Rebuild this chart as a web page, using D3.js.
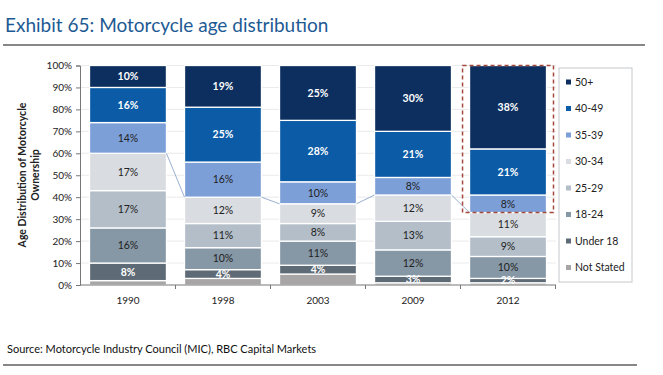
<!DOCTYPE html>
<html>
<head>
<meta charset="utf-8">
<script src="https://cdn.jsdelivr.net/npm/d3@7"></script>
<style>
  body { margin: 0; background: #fff; }
  svg { display: block; font-family: Lato, "Open Sans", sans-serif; }
</style>
</head>
<body>
<div id="chart"></div>
<script>
// Data (percent of ownership, bottom to top).
const years = ["1990", "1998", "2003", "2009", "2012"];
const groups = ["Not Stated", "Under 18", "18-24", "25-29", "30-34", "35-39", "40-49", "50+"];
const notStated = [2, 3, 5, 1, 1];
const under18   = [8, 4, 4, 3, 2];
const age18_24  = [16, 10, 11, 12, 10];
const age25_29  = [17, 11, 8, 13, 9];
const age30_34  = [17, 12, 9, 12, 11];
const age35_39  = [14, 16, 10, 8, 8];
const age40_49  = [16, 25, 28, 21, 21];
const age50plus = [10, 19, 25, 30, 38];
const yTicks = [0, 10, 20, 30, 40, 50, 60, 70, 80, 90, 100];

const colors = ["#a7a5a5", "#5e6a75", "#8697a5", "#b3bec8", "#d9dde1", "#7c9fd8", "#0b5ba6", "#0c2f5f"];
// Dark segments get white labels.
const whiteText = [true, true, false, false, false, false, true, true];

// Canvas dimensions.
const width = 663, height = 375;
const plot = { left: 80, right: 556, top: 65.5, bottom: 285 };

const table = years.map((yr, i) => ({
  year: yr,
  "Not Stated": notStated[i], "Under 18": under18[i], "18-24": age18_24[i],
  "25-29": age25_29[i], "30-34": age30_34[i], "35-39": age35_39[i],
  "40-49": age40_49[i], "50+": age50plus[i]
}));

const series = d3.stack().keys(groups)(table);

const svg = d3.select("#chart").append("svg")
  .attr("width", width).attr("height", height);

const x = d3.scaleBand().domain(years).range([plot.left, plot.right]).paddingInner(0.19).paddingOuter(0.1);
const y = d3.scaleLinear().domain([0, 100]).range([plot.bottom, plot.top]);

// Title and rules.
svg.append("text")
  .attr("x", 5).attr("y", 32)
  .attr("font-size", 19).attr("fill", "#1d5a94")
  .text("Exhibit 65: Motorcycle age distribution");

svg.append("line")
  .attr("x1", 3).attr("x2", 645).attr("y1", 45).attr("y2", 45)
  .attr("stroke", "#111").attr("stroke-width", 1.2);

svg.append("text")
  .attr("x", 7).attr("y", 353)
  .attr("font-size", 11).attr("fill", "#111")
  .text("Source: Motorcycle Industry Council (MIC), RBC Capital Markets");

svg.append("line")
  .attr("x1", 3).attr("x2", 637).attr("y1", 365).attr("y2", 365)
  .attr("stroke", "#111").attr("stroke-width", 1.2);

// Gridlines.
svg.append("g")
  .selectAll("line")
  .data(yTicks.slice(1))
  .join("line")
    .attr("x1", plot.left).attr("x2", plot.right)
    .attr("y1", d => y(d)).attr("y2", d => y(d))
    .attr("stroke", "#e4e4e4").attr("stroke-width", 0.8);

// Stacked bars.
const layers = svg.append("g")
  .selectAll("g")
  .data(series)
  .join("g")
    .attr("fill", (d, i) => colors[i]);

layers.selectAll("rect")
  .data(d => d)
  .join("rect")
    .attr("x", d => x(d.data.year))
    .attr("y", d => y(d[1]))
    .attr("width", x.bandwidth())
    .attr("height", d => y(d[0]) - y(d[1]))
    .attr("stroke", "#fff").attr("stroke-width", 1.3);

// Series line linking the 30-34 / 35-39 boundary.
const boundary = series[groups.indexOf("30-34")];
svg.append("g")
  .selectAll("line")
  .data(boundary.slice(0, -1))
  .join("line")
    .attr("x1", d => x(d.data.year) + x.bandwidth())
    .attr("y1", d => y(d[1]))
    .attr("x2", (d, i) => x(boundary[i + 1].data.year))
    .attr("y2", (d, i) => y(boundary[i + 1][1]))
    .attr("stroke", "#7f9cc6").attr("stroke-width", 0.8);

// Segment labels (Not Stated is unlabelled).
series.forEach((s, k) => {
  if (k === 0) return;
  svg.append("g")
    .selectAll("text")
    .data(s)
    .join("text")
      .attr("x", d => x(d.data.year) + x.bandwidth() / 2)
      .attr("y", d => (y(d[0]) + y(d[1])) / 2)
      .attr("dy", "0.36em")
      .attr("text-anchor", "middle")
      .attr("font-size", 10.5)
      .attr("font-weight", whiteText[k] ? "bold" : "normal")
      .attr("fill", whiteText[k] ? "#fff" : "#222")
      .text(d => d.data[s.key] + "%");
});

// Dashed highlight round the older groups in 2012.
const last = years[years.length - 1];
svg.append("rect")
  .attr("x", x(last) - 7)
  .attr("y", y(100))
  .attr("width", x.bandwidth() + 14)
  .attr("height", y(boundary[years.length - 1][1]) - y(100))
  .attr("fill", "none")
  .attr("stroke", "#a4483c")
  .attr("stroke-width", 1.5)
  .attr("stroke-dasharray", "4,3");

// Y axis.
const yAxis = svg.append("g")
  .attr("transform", "translate(" + plot.left + ",0)")
  .call(d3.axisLeft(y).tickValues(yTicks).tickFormat(d => d + "%").tickSize(4).tickPadding(4));
yAxis.select(".domain").attr("stroke", "#777");
yAxis.selectAll(".tick line").attr("stroke", "#777");
yAxis.selectAll("text").attr("font-size", 10).attr("fill", "#222").attr("font-family", "Lato, sans-serif");

// X axis: ticks sit between categories.
const xAxis = svg.append("g")
  .attr("transform", "translate(0," + plot.bottom + ")");
xAxis.append("line")
  .attr("x1", plot.left).attr("x2", plot.right)
  .attr("stroke", "#777");
const step = x.step();
xAxis.selectAll("line.tk")
  .data(years)
  .join("line")
    .attr("class", "tk")
    .attr("x1", d => x(d) + x.bandwidth() / 2 + step / 2)
    .attr("x2", d => x(d) + x.bandwidth() / 2 + step / 2)
    .attr("y1", 0).attr("y2", 4)
    .attr("stroke", "#777");
xAxis.selectAll("text")
  .data(years)
  .join("text")
    .attr("x", d => x(d) + x.bandwidth() / 2)
    .attr("y", 19)
    .attr("text-anchor", "middle")
    .attr("font-size", 10).attr("fill", "#222")
    .text(d => d);

// Y axis title.
const yTitle = svg.append("text")
  .attr("transform", "translate(26,175) rotate(-90)")
  .attr("text-anchor", "middle")
  .attr("font-size", 10.5).attr("font-weight", "bold").attr("fill", "#222");
yTitle.append("tspan").attr("x", 0).attr("dy", 0).text("Age Distribution of Motorcycle");
yTitle.append("tspan").attr("x", 0).attr("dy", "1.2em").text("Ownership");

// Legend, top group first.
const legend = svg.append("g");
legend.append("rect")
  .attr("x", 559).attr("y", 68).attr("width", 73).attr("height", 214)
  .attr("fill", "#fff").attr("stroke", "#c4c8cc");

const legendItems = legend.selectAll("g.item")
  .data(groups.slice().reverse())
  .join("g")
    .attr("class", "item")
    .attr("transform", (d, i) => "translate(566," + (82 + i * 26.5) + ")");

legendItems.append("rect")
  .attr("x", 0).attr("y", -2.5).attr("width", 5).attr("height", 5)
  .attr("fill", d => colors[groups.indexOf(d)]);

legendItems.append("text")
  .attr("x", 9).attr("dy", "0.35em")
  .attr("font-size", 10.5).attr("fill", "#222")
  .text(d => d);
</script>
</body>
</html>
